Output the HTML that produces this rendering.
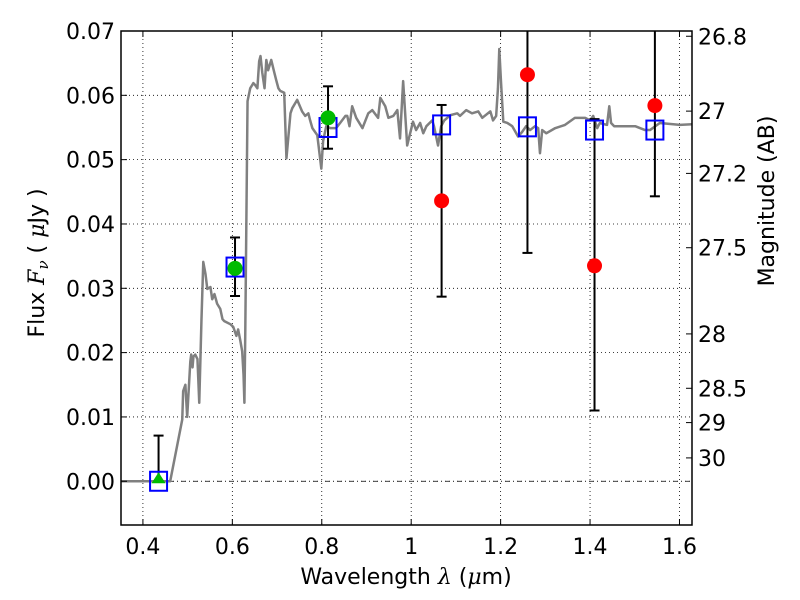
<!DOCTYPE html>
<html><head><meta charset="utf-8">
<style>body{margin:0;background:#fff}svg{display:block;font-family:"DejaVu Sans","Liberation Sans",sans-serif}</style>
</head><body>
<svg id="chart" width="800" height="600" viewBox="0 0 800 600" xmlns="http://www.w3.org/2000/svg"></svg>
<script>
const specLam=[0.352,0.461,0.488,0.490,0.495,0.499,0.506,0.508,0.511,0.513,0.517,0.522,0.526,0.531,0.535,0.540,0.544,0.551,0.555,0.560,0.566,0.573,0.578,0.582,0.596,0.602,0.609,0.613,0.618,0.622,0.625,0.627,0.629,0.634,0.640,0.647,0.651,0.656,0.660,0.663,0.667,0.672,0.676,0.680,0.687,0.694,0.698,0.703,0.707,0.716,0.721,0.730,0.734,0.745,0.756,0.763,0.770,0.774,0.779,0.790,0.799,0.803,0.810,0.819,0.832,0.841,0.853,0.857,0.862,0.868,0.877,0.891,0.904,0.913,0.926,0.931,0.942,0.949,0.960,0.969,0.975,0.982,0.991,1.004,1.011,1.020,1.027,1.034,1.047,1.051,1.060,1.067,1.074,1.087,1.103,1.109,1.123,1.136,1.150,1.159,1.177,1.183,1.190,1.194,1.197,1.201,1.206,1.215,1.226,1.239,1.248,1.257,1.266,1.277,1.284,1.288,1.293,1.302,1.322,1.344,1.366,1.389,1.400,1.407,1.416,1.422,1.438,1.443,1.447,1.454,1.478,1.501,1.523,1.534,1.556,1.601,1.628];
const specFlux=[0,0,0.0096,0.0140,0.0150,0.0100,0.0186,0.0197,0.0177,0.0194,0.0197,0.0190,0.0122,0.0252,0.0341,0.0322,0.0299,0.0302,0.0283,0.0291,0.0276,0.0268,0.0252,0.0249,0.0244,0.0240,0.0226,0.0236,0.0218,0.0202,0.0166,0.0122,0.0236,0.0591,0.0611,0.0619,0.0616,0.0611,0.0653,0.0661,0.0635,0.0611,0.0655,0.0639,0.0655,0.0635,0.0624,0.0611,0.0607,0.0604,0.0502,0.0572,0.0580,0.0593,0.0575,0.0568,0.0572,0.0561,0.0549,0.0538,0.0486,0.0529,0.0552,0.0549,0.0549,0.0557,0.0568,0.0568,0.0552,0.0583,0.0565,0.0549,0.0572,0.0577,0.0565,0.0596,0.0583,0.0565,0.0568,0.0577,0.0533,0.0622,0.0522,0.0559,0.0546,0.0557,0.0541,0.0552,0.0561,0.0552,0.0522,0.0552,0.0561,0.0569,0.0572,0.0568,0.0577,0.0572,0.0575,0.0565,0.0575,0.0561,0.0568,0.0611,0.0672,0.0619,0.0559,0.0557,0.0552,0.0536,0.0543,0.0552,0.0546,0.0552,0.0549,0.0510,0.0546,0.0541,0.0549,0.0554,0.0565,0.0565,0.0561,0.0568,0.0549,0.0557,0.0554,0.0583,0.0557,0.0552,0.0552,0.0552,0.0546,0.0546,0.0557,0.0554,0.0555];
const bandLam=[0.435,0.606,0.814,1.068,1.260,1.410,1.545];
const modelFlux=[0,0.0333,0.0550,0.0554,0.0551,0.0546,0.0546];
const errLow=[0,0.0288,0.0517,0.0287,0.0355,0.0110,0.0443];
const errHigh=[0.0071,0.0379,0.0614,0.0585,0.075,0.0563,0.075];
const greenLam=[0.606,0.814];
const greenFlux=[0.0331,0.0565];
const triLam=[0.435];
const triFlux=[0];
const redLam=[1.068,1.260,1.410,1.545];
const redFlux=[0.0436,0.0632,0.0335,0.0584];
const xTicks=[0.4,0.6,0.8,1.0,1.2,1.4,1.6];
const xTickLabels=["0.4","0.6","0.8","1","1.2","1.4","1.6"];
const yTicks=[0,0.01,0.02,0.03,0.04,0.05,0.06,0.07];
const yTickLabels=["0.00","0.01","0.02","0.03","0.04","0.05","0.06","0.07"];
const magTicks=[26.8,27,27.2,27.5,28,28.5,29,30];
const magTickLabels=["26.8","27","27.2","27.5","28","28.5","29","30"];

const L=121,R=692,T=31,B=525;
const X0=0.351,X1=1.628,Y0=-0.0068,Y1=0.0700;
const sx=v=>L+(v-X0)/(X1-X0)*(R-L);
const sy=v=>B-(v-Y0)/(Y1-Y0)*(B-T);
const svg=document.getElementById('chart');
const NS='http://www.w3.org/2000/svg';
function mk(tag,at,parent){const e=document.createElementNS(NS,tag);for(const k in at)e.setAttribute(k,at[k]);(parent||svg).appendChild(e);return e;}
const clip=mk('clipPath',{id:'pc'});mk('rect',{x:L,y:T,width:R-L,height:B-T},clip);

xTicks.forEach((t,i)=>{const g=mk('line',{x1:sx(t),x2:sx(t),y1:T,y2:B,stroke:'#000','stroke-width':0.8,'stroke-dasharray':'1,3'});

});
yTicks.forEach((t,i)=>{const g=mk('line',{x1:L,x2:R,y1:sy(t),y2:sy(t),stroke:'#000','stroke-width':0.8,'stroke-dasharray':'1,3'});

});
const zl=mk('line',{x1:L,x2:R,y1:sy(0),y2:sy(0),stroke:'#000','stroke-width':0.8,'stroke-dasharray':'5,3,1,3'});



const pg=mk('g',{'clip-path':'url(#pc)'});
const sp=mk('polyline',{points:specLam.map((l,i)=>sx(l)+','+sy(specFlux[i])).join(' '),fill:'none',stroke:'#808080','stroke-width':2.5,'stroke-linejoin':'round'},pg);


bandLam.forEach((l,i)=>{const x=sx(l);
const e=mk('line',{x1:x,x2:x,y1:sy(errLow[i]),y2:sy(errHigh[i]),stroke:'#000','stroke-width':2},pg);


[errLow[i],errHigh[i]].forEach(v=>{const c=mk('line',{x1:x-5,x2:x+5,y1:sy(v),y2:sy(v),stroke:'#000','stroke-width':2},pg);

});});
bandLam.forEach((l,i)=>{const s=mk('rect',{x:sx(l)-8.5,y:sy(modelFlux[i])-9.5,width:17,height:19,fill:'none',stroke:'#0000ff','stroke-width':2},pg);

});
greenLam.forEach((l,i)=>{const c=mk('circle',{cx:sx(l),cy:sy(greenFlux[i]),r:7.5,fill:'#00bb00'},pg);

});
triLam.forEach((l,i)=>{const x=sx(l),y=sy(triFlux[i]);const t=mk('polygon',{points:`${x-7},${y+2} ${x+7},${y+2} ${x},${y-9}`,fill:'#00bb00'},pg);

});
redLam.forEach((l,i)=>{const c=mk('circle',{cx:sx(l),cy:sy(redFlux[i]),r:7.5,fill:'#ff0000'},pg);

});

const fr=mk('rect',{x:L,y:T,width:R-L,height:B-T,fill:'none',stroke:'#000','stroke-width':1.5});


xTicks.forEach((t,i)=>{const x=sx(t);
mk('line',{x1:x,x2:x,y1:B,y2:B-6,stroke:'#000'});mk('line',{x1:x,x2:x,y1:T,y2:T+6,stroke:'#000'});
const tx=mk('text',{x:x,y:B+29,'font-size':22,'text-anchor':'middle'});tx.textContent=xTickLabels[i];

});
yTicks.forEach((t,i)=>{const y=sy(t);
mk('line',{x1:L,x2:L+6,y1:y,y2:y,stroke:'#000'});
const tx=mk('text',{x:L-6,y:y+8,'font-size':22,'text-anchor':'end'});tx.textContent=yTickLabels[i];

});
magTicks.forEach((m,i)=>{const y=sy(Math.pow(10,(23.9-m)/2.5));
mk('line',{x1:R,x2:R-6,y1:y,y2:y,stroke:'#000'});
const tx=mk('text',{x:R+6,y:y+8,'font-size':22});tx.textContent=magTickLabels[i];

});

const xl=mk('text',{x:406,y:584,'font-size':22,'text-anchor':'middle'});
xl.innerHTML='Wavelength  <tspan font-style="italic" font-family="DejaVu Serif, serif">λ</tspan> (<tspan font-style="italic" font-family="DejaVu Serif, serif">μ</tspan>m)';


const yl=mk('text',{transform:'translate(44,263) rotate(-90)','font-size':22,'text-anchor':'middle'});
yl.innerHTML='Flux  <tspan font-style="italic" font-family="DejaVu Serif, serif">F<tspan font-size="15" dy="4">ν</tspan></tspan><tspan dy="-4">  (  </tspan><tspan font-style="italic" font-family="DejaVu Serif, serif">μ</tspan>Jy )';


const ml=mk('text',{transform:'translate(774,201) rotate(-90)','font-size':22,'text-anchor':'middle'});
ml.textContent='Magnitude (AB)';


</script>
</body></html>
